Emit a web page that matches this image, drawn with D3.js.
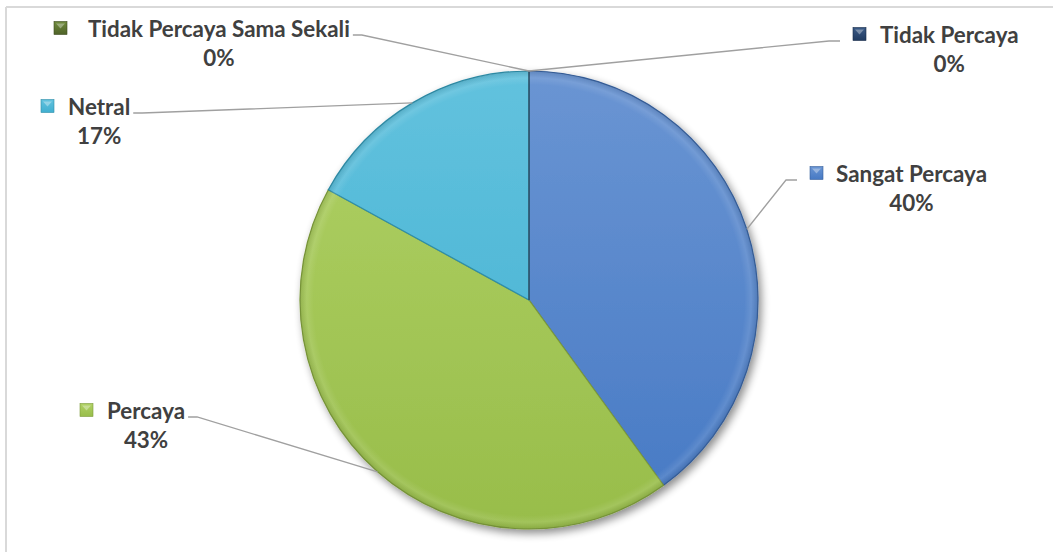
<!DOCTYPE html>
<html>
<head>
<meta charset="utf-8">
<script src="https://cdn.jsdelivr.net/npm/d3@7"></script>
<style>
  html, body { margin: 0; padding: 0; background: #fff; }
  svg { display: block; }
  text { font-family: "Lato", "Open Sans", sans-serif; font-weight: 700; fill: #404040; }
</style>
</head>
<body>
<svg id="chart" width="1053" height="552"></svg>
<script>
// Survey categories and their shares (percent)
const categories = ["Sangat Percaya", "Percaya", "Netral", "Tidak Percaya", "Tidak Percaya Sama Sekali"];
const values = [40, 43, 17, 0, 0];
const percentLabels = ["40%", "43%", "17%", "0%", "0%"];

// Fill colours: [light, dark, edge]
const palette = [
  ["#6a95d3", "#4679c4", "#37609c"],
  ["#b0d165", "#98bd4a", "#7c9a3b"],
  ["#62c2de", "#40afd0", "#2f8ea9"],
  ["#3a5a86", "#1f3a60", "#162a48"],
  ["#6f8a3c", "#4f6228", "#3c4b1e"]
];

// Label anchors: marker left edge, text left edge, marker centre line, which side of the pie
const labelLayout = [
  { mx: 810, tx: 836, y: 173, side: "right" },
  { mx: 80,  tx: 107, y: 410, side: "left" },
  { mx: 41,  tx: 68,  y: 106, side: "left" },
  { mx: 853, tx: 880, y: 34,  side: "right" },
  { mx: 54,  tx: 88,  y: 28,  side: "left" }
];

const width = 1053, height = 552;
const cx = 529, cy = 300, radius = 229;
const fontSize = 22.4, lineGap = 29, baselineShift = 8.5;

const svg = d3.select("#chart");
const defs = svg.append("defs");

// Soft shadow under the pie
const shadow = defs.append("filter").attr("id", "pieShadow")
  .attr("x", "-20%").attr("y", "-20%").attr("width", "140%").attr("height", "140%");
shadow.append("feGaussianBlur").attr("in", "SourceAlpha").attr("stdDeviation", 4).attr("result", "blur");
shadow.append("feOffset").attr("in", "blur").attr("dx", 3).attr("dy", 4).attr("result", "off");
shadow.append("feComponentTransfer").attr("in", "off").attr("result", "shade")
  .append("feFuncA").attr("type", "linear").attr("slope", 0.45);
const merge = shadow.append("feMerge");
merge.append("feMergeNode").attr("in", "shade");
merge.append("feMergeNode").attr("in", "SourceGraphic");

palette.forEach((c, i) => {
  const g = defs.append("linearGradient").attr("id", "grad" + i)
    .attr("gradientUnits", "userSpaceOnUse")
    .attr("x1", 0).attr("y1", -radius).attr("x2", 0).attr("y2", radius);
  g.append("stop").attr("offset", "0%").attr("stop-color", c[0]);
  g.append("stop").attr("offset", "100%").attr("stop-color", c[1]);
  const m = defs.append("linearGradient").attr("id", "mark" + i)
    .attr("x1", 0).attr("y1", 0).attr("x2", 0).attr("y2", 1);
  m.append("stop").attr("offset", "0%").attr("stop-color", c[0]);
  m.append("stop").attr("offset", "100%").attr("stop-color", c[1]);
});

// Subtle bevel toward the outer edge
const rim = defs.append("radialGradient").attr("id", "rim")
  .attr("gradientUnits", "userSpaceOnUse")
  .attr("cx", 0).attr("cy", 0).attr("r", radius);
rim.append("stop").attr("offset", "0%").attr("stop-color", "#fff").attr("stop-opacity", 0);
rim.append("stop").attr("offset", "94%").attr("stop-color", "#fff").attr("stop-opacity", 0);
rim.append("stop").attr("offset", "97%").attr("stop-color", "#fff").attr("stop-opacity", 0.1);
rim.append("stop").attr("offset", "100%").attr("stop-color", "#000").attr("stop-opacity", 0.1);

// Chart-area frame lines
svg.append("line").attr("x1", 6).attr("y1", 7).attr("x2", width).attr("y2", 7)
  .attr("stroke", "#d9d9d9").attr("stroke-width", 2);
svg.append("line").attr("x1", 6).attr("y1", 7).attr("x2", 6).attr("y2", height)
  .attr("stroke", "#d9d9d9").attr("stroke-width", 2);

const data = categories.map((name, i) => ({ name, value: values[i], label: percentLabels[i], i }));

const pie = d3.pie().sort(null).value(d => d.value).startAngle(0).endAngle(2 * Math.PI);
const arcs = pie(data);
const arc = d3.arc().innerRadius(0).outerRadius(radius);

const pieG = svg.append("g").attr("transform", `translate(${cx},${cy})`);
const sliceG = pieG.append("g").attr("filter", "url(#pieShadow)");

sliceG.selectAll("path.slice")
  .data(arcs.filter(a => a.value > 0))
  .join("path")
  .attr("class", "slice")
  .attr("d", arc)
  .attr("fill", d => `url(#grad${d.data.i})`)
  .attr("stroke", d => palette[d.data.i][2])
  .attr("stroke-width", 1.2);

pieG.append("g").selectAll("path")
  .data(arcs.filter(a => a.value > 0))
  .join("path")
  .attr("d", arc)
  .attr("fill", "url(#rim)")
  .style("pointer-events", "none");

// Dark seam where the zero slices sit at the top
pieG.append("line").attr("x1", 0).attr("y1", -radius).attr("x2", 0).attr("y2", 0)
  .attr("stroke", "#2b3f55").attr("stroke-width", 1.5).attr("opacity", 0.8);

// Leader lines and labels
const leaderG = svg.append("g");
const labelG = svg.append("g");

arcs.forEach((a, k) => {
  const lay = labelLayout[k];
  const baseline = lay.y + baselineShift;

  const g = labelG.append("g");
  g.append("rect")
    .attr("x", lay.mx).attr("y", lay.y - 6.5)
    .attr("width", 13).attr("height", 13)
    .attr("fill", `url(#mark${k})`)
    .attr("stroke", palette[k][2]).attr("stroke-width", 0.6);
  g.append("path")
    .attr("d", `M${lay.mx + 2},${lay.y - 4.5}L${lay.mx + 11},${lay.y - 4.5}L${lay.mx + 6.5},${lay.y + 0.5}Z`)
    .attr("fill", "#fff").attr("opacity", 0.35);
  const nameText = g.append("text")
    .attr("x", lay.tx).attr("y", baseline)
    .attr("font-size", fontSize)
    .text(a.data.name);
  const w = nameText.node().getComputedTextLength();
  g.append("text")
    .attr("x", lay.tx + w / 2).attr("y", baseline + lineGap)
    .attr("text-anchor", "middle")
    .attr("font-size", fontSize)
    .text(a.data.label);

  // leader: short horizontal stub next to the label, then straight to the slice edge
  const mid = (a.startAngle + a.endAngle) / 2;
  const px = cx + radius * Math.sin(mid);
  const py = cy - radius * Math.cos(mid);
  const ly = baseline - 1.5;
  const start = lay.side === "left" ? lay.tx + w + 3 : lay.mx - 13;
  const stub = lay.side === "left" ? start + 9 : start - 11;
  leaderG.append("path")
    .attr("d", d3.line()([[start, ly], [stub, ly], [px, py]]))
    .attr("fill", "none")
    .attr("stroke", "#a0a0a0")
    .attr("stroke-width", 1.3);
});
</script>
</body>
</html>
